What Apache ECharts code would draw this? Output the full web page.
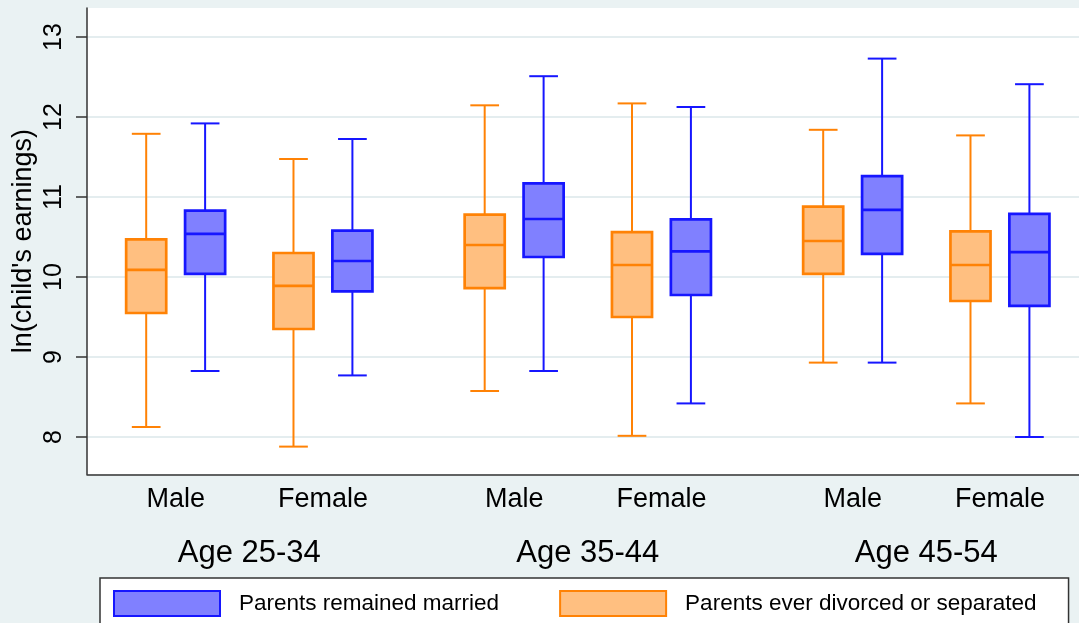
<!DOCTYPE html>
<html>
<head>
<meta charset="utf-8">
<script src="https://cdn.jsdelivr.net/npm/echarts@6/dist/echarts.min.js"></script>
<style>
  html, body { margin: 0; padding: 0; background: #eaf2f3; }
  #chart { width: 1079px; height: 623px; }
</style>
</head>
<body>
<div id="chart"></div>
<script>
// Categories
const sexes = ['Male', 'Female'];
const ageGroups = ['Age 25-34', 'Age 35-44', 'Age 45-54'];
const seriesNames = ['Parents remained married', 'Parents ever divorced or separated'];
const yTickMin = 8, yTickMax = 13, yTickStep = 1;

// Box statistics per age group, per sex: [lower adjacent, Q1, median, Q3, upper adjacent]
const marriedAge25 = [[8.825, 10.04, 10.54, 10.83, 11.92], [8.77, 9.82, 10.20, 10.58, 11.725]];
const marriedAge35 = [[8.825, 10.25, 10.725, 11.17, 12.51], [8.42, 9.775, 10.32, 10.72, 12.125]];
const marriedAge45 = [[8.93, 10.29, 10.84, 11.26, 12.73], [8.00, 9.64, 10.31, 10.79, 12.41]];

const divorcedAge25 = [[8.125, 9.55, 10.09, 10.47, 11.79], [7.88, 9.35, 9.89, 10.30, 11.475]];
const divorcedAge35 = [[8.575, 9.86, 10.40, 10.78, 12.146], [8.015, 9.50, 10.15, 10.56, 12.17]];
const divorcedAge45 = [[8.93, 10.04, 10.45, 10.88, 11.84], [8.42, 9.70, 10.15, 10.57, 11.77]];

const married = [marriedAge25, marriedAge35, marriedAge45];
const divorced = [divorcedAge25, divorcedAge35, divorcedAge45];

const FONT = "'Liberation Sans', Arial, Helvetica, sans-serif";
// Plot region value range and pixel layout
const Y_MIN = 7.534, Y_MAX = 13.3625;
const PLOT_LEFT = 87, PLOT_TOP = 8, PLOT_HEIGHT = 466.3, PLOT_WIDTH = 1012;
const PX_PER_UNIT = PLOT_HEIGHT / (Y_MAX - Y_MIN);
const BAND = 147.3;
const groupLefts = [102, 440.5, 779];

const colors = {
  married: { fill: '#8080ff', stroke: '#1616ff' },
  divorced: { fill: '#ffbf80', stroke: '#ff8205' }
};

// Draws one box-and-whisker; shiftFrac moves it left/right inside the category band
function makeBoxRenderer(shiftFrac, fill, stroke) {
  return function (params, api) {
    const cat = api.value(0);
    const band = api.size([1, 0])[0];
    const cx = api.coord([cat, api.value(3)])[0] + band * shiftFrac;
    const py = (i) => api.coord([cat, api.value(i)])[1];
    const low = py(1), q1 = py(2), med = py(3), q3 = py(4), high = py(5);
    const hw = band * 0.136;
    const cw = band * 0.0975;
    const thin = { stroke: stroke, lineWidth: 2 };
    return {
      type: 'group',
      children: [
        { type: 'line', shape: { x1: cx, y1: q3, x2: cx, y2: high }, style: thin },
        { type: 'line', shape: { x1: cx, y1: q1, x2: cx, y2: low }, style: thin },
        { type: 'line', shape: { x1: cx - cw, y1: high, x2: cx + cw, y2: high }, style: thin },
        { type: 'line', shape: { x1: cx - cw, y1: low, x2: cx + cw, y2: low }, style: thin },
        { type: 'rect', shape: { x: cx - hw, y: q3, width: hw * 2, height: q1 - q3 },
          style: { fill: fill, stroke: stroke, lineWidth: 2.7 } },
        { type: 'line', shape: { x1: cx - hw, y1: med, x2: cx + hw, y2: med },
          style: { stroke: stroke, lineWidth: 2.7 } }
      ]
    };
  };
}

function toRows(stats) {
  return stats.map((s, i) => [i].concat(s));
}

const axisStroke = { color: '#333', width: 1.5 };

// grid 0: white plot region with the axis lines and the y title
// grid 1: the tick range 8..13, carrying ticks, tick labels and grid lines
const grids = [
  { left: PLOT_LEFT, top: PLOT_TOP, width: PLOT_WIDTH, height: PLOT_HEIGHT,
    show: true, backgroundColor: '#ffffff', borderWidth: 0 },
  { left: PLOT_LEFT, top: PLOT_TOP + (Y_MAX - yTickMax) * PX_PER_UNIT, width: PLOT_WIDTH,
    height: (yTickMax - yTickMin) * PX_PER_UNIT, show: false }
];
const xAxes = [
  { gridIndex: 0, type: 'value', min: 0, max: 1,
    axisLine: { show: true, lineStyle: axisStroke },
    axisTick: { show: false }, axisLabel: { show: false }, splitLine: { show: false } },
  { gridIndex: 1, type: 'value', min: 0, max: 1, show: false }
];
const yAxes = [
  { gridIndex: 0, type: 'value', min: Y_MIN, max: Y_MAX,
    name: "ln(child's earnings)", nameLocation: 'middle', nameRotate: 90, nameGap: 50,
    nameTextStyle: { fontFamily: FONT, fontSize: 27, color: '#000' },
    axisLine: { show: true, lineStyle: axisStroke },
    axisTick: { show: false }, axisLabel: { show: false }, splitLine: { show: false } },
  { gridIndex: 1, type: 'value', min: yTickMin, max: yTickMax, interval: yTickStep,
    axisLine: { show: false },
    axisTick: { show: true, length: 11, lineStyle: axisStroke },
    axisLabel: { rotate: 90, margin: 20, fontFamily: FONT, fontSize: 25, color: '#000' },
    splitLine: { show: true, lineStyle: { color: '#e4edef', width: 2 } } }
];
const series = [];

ageGroups.forEach((age, g) => {
  const idx = g + 2;
  grids.push({ left: groupLefts[g], top: PLOT_TOP, width: BAND * 2, height: PLOT_HEIGHT, show: false });
  xAxes.push({
    gridIndex: idx, type: 'category', data: sexes,
    name: age, nameLocation: 'middle', nameGap: 64,
    nameTextStyle: { fontFamily: FONT, fontSize: 31, color: '#000' },
    axisLine: { show: false }, axisTick: { show: false },
    axisLabel: { interval: 0, margin: 12, fontFamily: FONT, fontSize: 27, color: '#000' }
  });
  yAxes.push({ gridIndex: idx, type: 'value', min: Y_MIN, max: Y_MAX, show: false, splitLine: { show: false } });
  series.push({
    type: 'custom', name: seriesNames[1], xAxisIndex: idx, yAxisIndex: idx,
    itemStyle: { color: colors.divorced.fill },
    renderItem: makeBoxRenderer(-0.2, colors.divorced.fill, colors.divorced.stroke),
    encode: { x: 0, y: [1, 2, 3, 4, 5] },
    data: toRows(divorced[g])
  });
  series.push({
    type: 'custom', name: seriesNames[0], xAxisIndex: idx, yAxisIndex: idx,
    itemStyle: { color: colors.married.fill },
    renderItem: makeBoxRenderer(0.2, colors.married.fill, colors.married.stroke),
    encode: { x: 0, y: [1, 2, 3, 4, 5] },
    data: toRows(married[g])
  });
});

const chart = echarts.init(document.getElementById('chart'), null, { renderer: 'canvas' });
chart.setOption({
  backgroundColor: '#eaf2f3',
  animation: false,
  grid: grids,
  xAxis: xAxes,
  yAxis: yAxes,
  legend: {
    left: 100, top: 578, orient: 'horizontal',
    padding: [12, 32, 14, 13],
    itemWidth: 106, itemHeight: 25, itemGap: 60,
    icon: 'rect', selectedMode: false,
    backgroundColor: '#ffffff', borderColor: '#333', borderWidth: 1.5, borderRadius: 0,
    textStyle: { fontFamily: FONT, fontSize: 22.5, color: '#000', padding: [0, 0, 0, 14] },
    data: [
      { name: seriesNames[0], itemStyle: { color: colors.married.fill, borderColor: colors.married.stroke, borderWidth: 2 } },
      { name: seriesNames[1], itemStyle: { color: colors.divorced.fill, borderColor: colors.divorced.stroke, borderWidth: 2 } }
    ]
  },
  series: series
});
</script>
</body>
</html>
